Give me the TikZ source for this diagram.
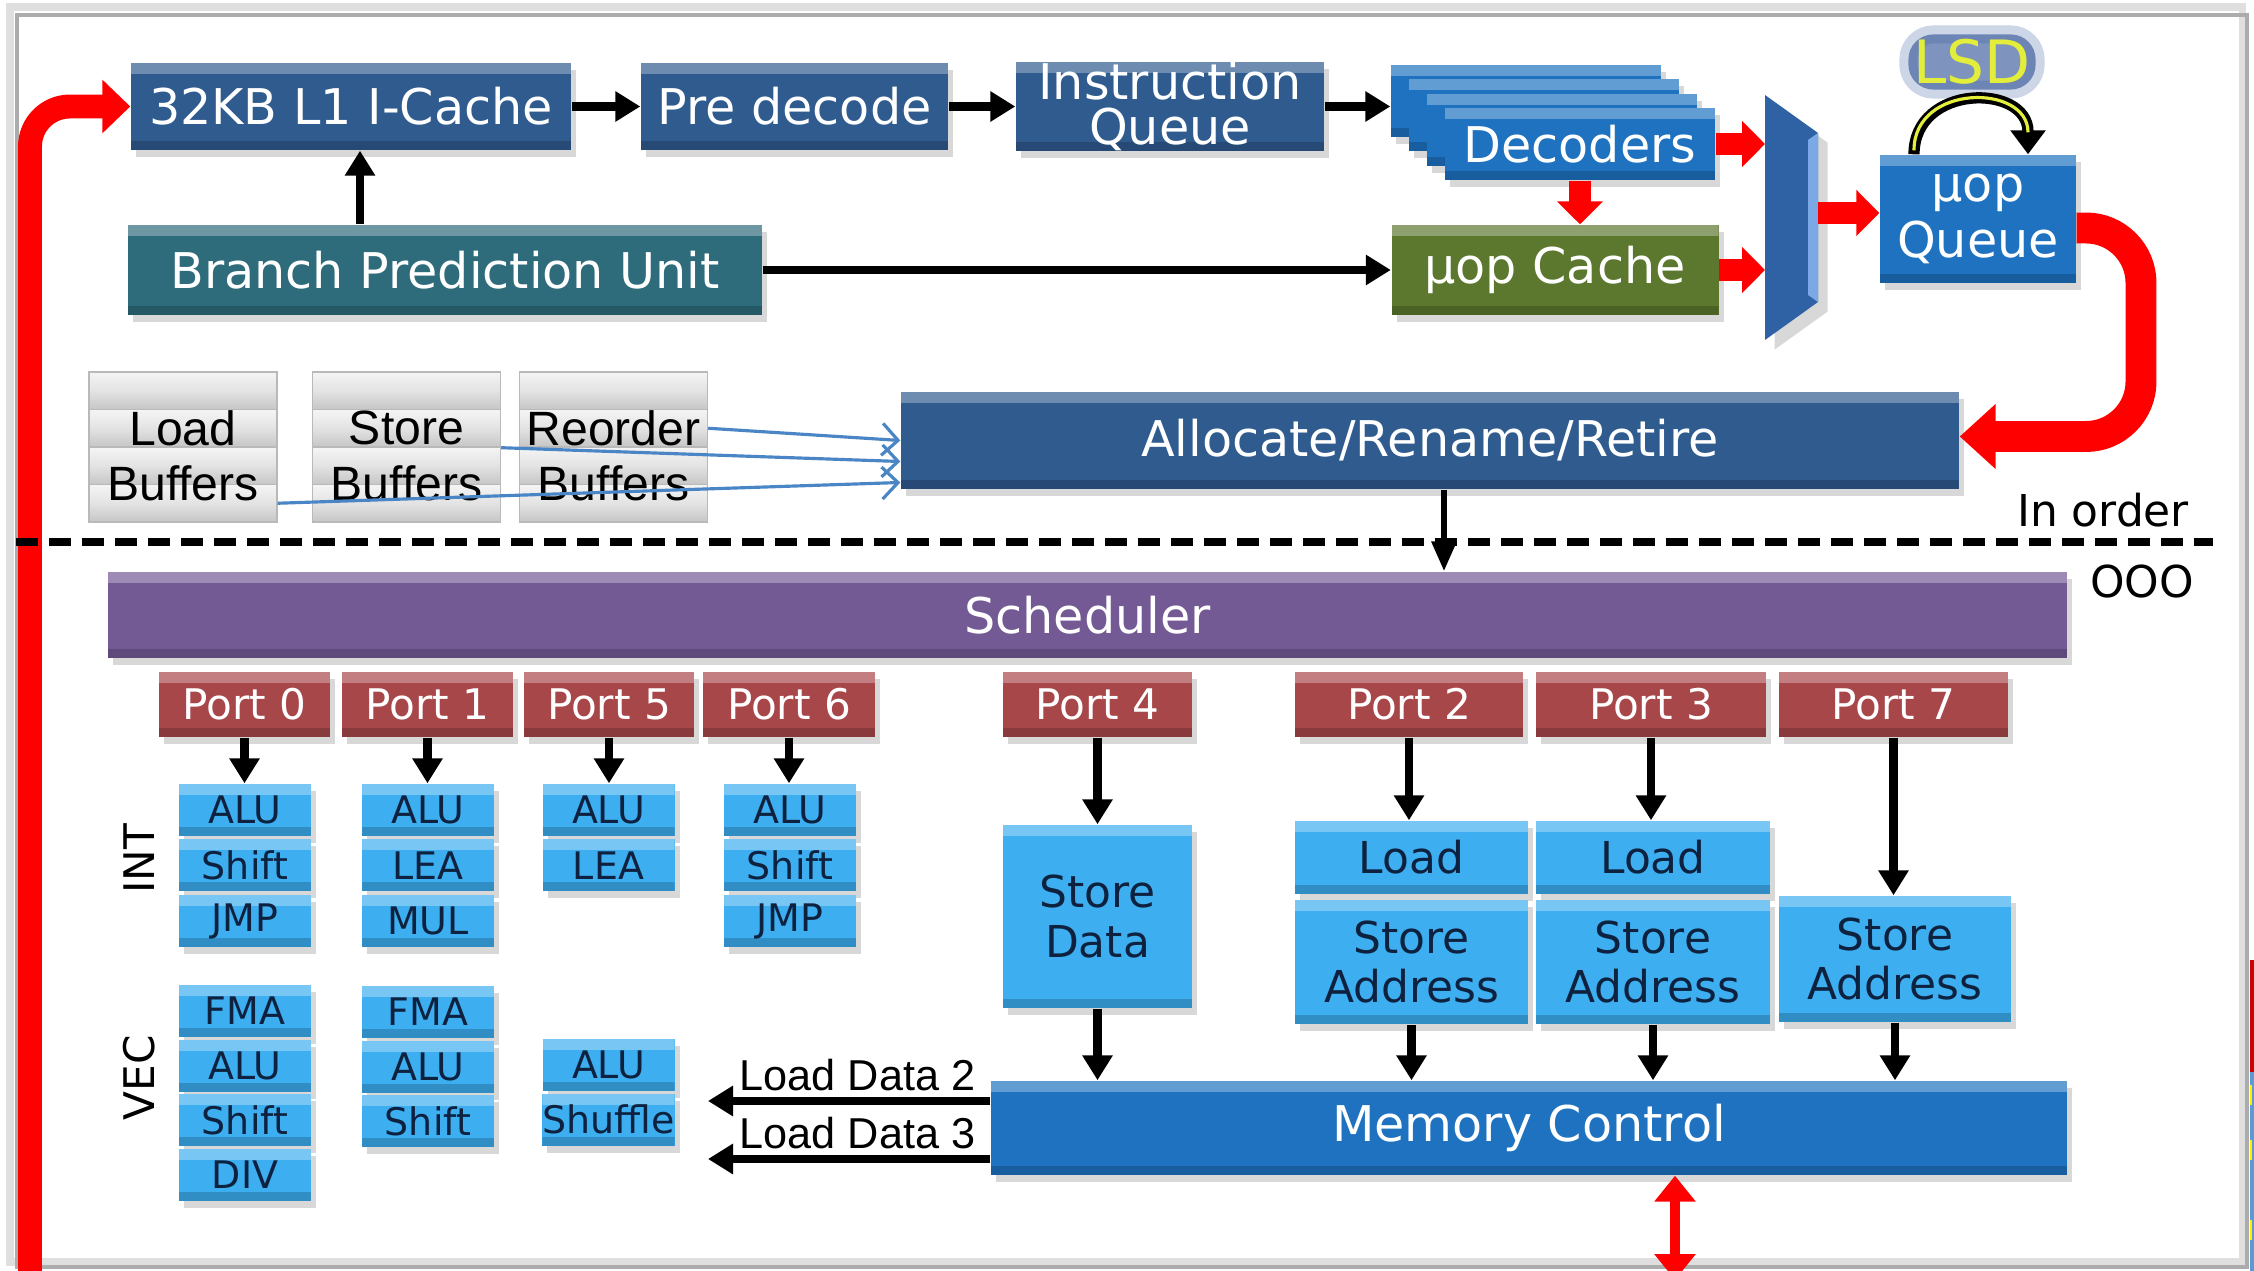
\documentclass[tikz,border=0pt]{standalone}
\usepackage{fontspec}
\setmainfont{DejaVu Sans}
\newfontfamily\arialfont{Liberation Sans}
\usetikzlibrary{arrows.meta,shadows,positioning}

\definecolor{dkblue}{HTML}{2F5B8F}
\definecolor{bputeal}{HTML}{2E6C7C}
\definecolor{midblue}{HTML}{1E72C0}
\definecolor{muxblue}{HTML}{2F62A4}
\definecolor{muxlight}{HTML}{7BA9E6}
\definecolor{ucgreen}{HTML}{5C782E}
\definecolor{schedpurple}{HTML}{745A95}
\definecolor{portred}{HTML}{A8474A}
\definecolor{ltblue}{HTML}{3DAEF0}
\definecolor{unitnavy}{HTML}{0E2240}
\definecolor{buflink}{HTML}{4A86C6}
\definecolor{lsdyellow}{HTML}{E2EE3A}
\definecolor{glowblue}{HTML}{3A5C9C}
\definecolor{stripblue}{HTML}{5B9BD5}

\begin{document}
\begin{tikzpicture}[
    cpubox/.style={rectangle, inner sep=0pt, align=center, text=white, fill=#1,
        font=\fontsize{14}{15}\selectfont,
        drop shadow={opacity=.3, shadow xshift=.5mm, shadow yshift=-.7mm},
        path picture={
            \fill[white, opacity=.3] (path picture bounding box.north west) rectangle ([yshift=-1.1mm]path picture bounding box.north east);
            \fill[black, opacity=.18] (path picture bounding box.south west) rectangle ([yshift=.9mm]path picture bounding box.south east);}},
    port/.style={cpubox=portred, minimum width=#1cm, minimum height=6.5mm, font=\fontsize{12}{13}\selectfont},
    alu/.style={cpubox=ltblue, text=unitnavy, minimum width=13.2mm, minimum height=5.2mm, font=\fontsize{10.8}{11}\selectfont},
    lsu/.style={cpubox=ltblue, text=unitnavy, font=\fontsize{12.5}{14.2}\selectfont},
    bufslice/.style={rectangle, inner sep=0pt, minimum width=1.88cm, minimum height=3.75mm, draw=gray!55,
        top color=gray!8, bottom color=gray!45, middle color=gray!22},
    buftxt/.style={font=\arialfont\fontsize{13.7}{14}\selectfont, inner sep=0pt},
    arr/.style={line width=2.5pt, -{Triangle[length=2.5mm, width=2.9mm]}},
    redarr/.style={red, line width=6.2pt, -{Triangle[length=2.3mm, width=4.5mm]}},
    link/.style={buflink, line width=.9pt, -{Straight Barb[length=1.6mm, width=3.2mm]}},
    side/.style={font=\fontsize{12.5}{13}\selectfont, inner sep=0pt},
]
    \useasboundingbox (0,0) rectangle (22.54,-12.71);
    \fill[white] (0,0) rectangle (22.54,-12.71);
    \draw[gray!25, line width=2pt] (0.10,-0.07) rectangle (22.42,-12.62);
    \draw[gray!65, line width=1pt] (0.17,-0.15) rectangle (22.47,-12.67);
    \fill[red!80!black] (22.50,-9.60) rectangle (22.54,-10.72);
    \fill[stripblue] (22.50,-10.72) rectangle (22.54,-12.71);
    \fill[yellow] (22.50,-10.85) rectangle (22.52,-11.05);
    \fill[yellow] (22.50,-11.40) rectangle (22.52,-11.60);
    \fill[yellow] (22.50,-12.20) rectangle (22.52,-12.40);

    \node[cpubox=dkblue, minimum width=4.40cm, minimum height=8.7mm] (l1) at (3.51,-1.065) {32KB L1 I-Cache};
    \node[cpubox=dkblue, minimum width=3.07cm, minimum height=8.7mm] (predec) at (7.945,-1.065) {Pre decode};
    \node[cpubox=dkblue, minimum width=3.08cm, minimum height=8.7mm, font=\fontsize{14}{13}\selectfont] (iq) at (11.70,-1.065) {Instruction\\Queue};
    \foreach \i in {0,1,2}
        \node[cpubox=midblue, minimum width=2.7cm, minimum height=7.2mm] (dec\i) at ({15.26+0.18*\i},{-1.01-0.143*\i}) {};
    \node[cpubox=midblue, minimum width=2.7cm, minimum height=7.2mm] (dec) at (15.80,-1.44) {Decoders};
    \node[cpubox=bputeal, minimum width=6.34cm, minimum height=9mm] (bpu) at (4.45,-2.70) {Branch Prediction Unit};
    \node[cpubox=ucgreen, minimum width=3.27cm, minimum height=9mm] (uc) at (15.55,-2.70) {μop Cache};
    \node[cpubox=midblue, minimum width=1.96cm, minimum height=12.8mm, font=\fontsize{14}{16}\selectfont] (uq) at (19.78,-2.19) {μop\\Queue};
    \node[font=\fontsize{17}{17}\selectfont, text=lsdyellow, inner sep=.5mm, rounded corners=2.5mm,
        fill=glowblue, fill opacity=.65, draw=glowblue, draw opacity=.25, line width=1.8mm, text opacity=1] (lsd) at (19.72,-0.62) {LSD};

    \draw[line width=3.2pt, -{Triangle[length=2.4mm, width=3.4mm]}]
        ([xshift=-6.4mm]uq.north) .. controls +(0,0.71) and +(0,0.71) .. ([xshift=5mm]uq.north);
    \draw[lsdyellow, line width=.9pt, shorten >=2.2mm, shorten <=.4mm]
        ([xshift=-6.4mm]uq.north) .. controls +(0,0.71) and +(0,0.71) .. ([xshift=5mm]uq.north);

    \coordinate (muxtl) at (17.65,-0.95);
    \coordinate (muxbl) at (17.65,-3.40);
    \coordinate (muxtr) at (18.18,-1.33);
    \coordinate (muxbr) at (18.18,-3.02);
    \fill[muxblue, drop shadow={opacity=.3}] (muxtl) -- (muxtr) -- (muxbr) -- (muxbl) -- cycle;
    \fill[muxlight] (18.08,-1.40) -- (muxtr) -- (muxbr) -- (18.08,-2.95) -- cycle;

    \draw[arr] (l1) -- (predec);
    \draw[arr] (predec) -- (iq);
    \draw[arr] (iq.east) -- (iq.east -| dec0.west);
    \draw[arr] ([xshift=.9mm]l1.south |- bpu.north) -- ([xshift=.9mm]l1.south);
    \draw[arr] (bpu) -- (uc);
    \draw[redarr] (dec.east) -- (dec.east -| muxtl);
    \draw[redarr] (uc.east) -- (uc.east -| muxtl);
    \draw[redarr] (dec.south) -- (dec.south |- uc.north);
    \draw[redarr] ([yshift=.6mm]uq.west -| muxtr) -- ([yshift=.6mm]uq.west);

    \foreach \b/\x/\lbl in {lb/1.83/Load, sb/4.065/Store, rob/6.135/Reorder} {
        \foreach \k in {0,...,3}
            \node[bufslice] (\b\k) at (\x,{-3.9075-0.375*\k}) {};
        \node[buftxt] (\b top) at (\b1) {\lbl};
        \node[buftxt] (\b bot) at ([yshift=.2mm]\b2.south) {Buffers};
    }
    \node[cpubox=dkblue, minimum width=10.58cm, minimum height=9.7mm] (alloc) at (14.30,-4.405) {Allocate/Rename/Retire};
    \draw[link] (rob1.east) -- (alloc.west);
    \draw[link] (sb1.south east) -- ([yshift=-2.1mm]alloc.west);
    \draw[link] (lb3.east) -- ([yshift=-4.2mm]alloc.west);

    \coordinate (rturn) at (21.41,-2.28);
    \draw[red, line width=8.8pt, -{Triangle[length=3.6mm, width=6.3mm]}, rounded corners=5.5mm]
        ([yshift=-.9mm]uq.east) -- (rturn) |- ([yshift=.4mm]alloc.east);
    \coordinate (lbot) at (0.30,-12.80);
    \draw[red, line width=6.8pt, -{Triangle[length=2.8mm, width=5.2mm]}, rounded corners=4mm] (lbot) |- (l1.west);

    \draw[line width=2.3pt, dash pattern=on 2.2mm off 1.1mm] (0.16,-5.42) -- (22.13,-5.42);
    \node[side] (inorder) at (21.03,-5.10) {In order};
    \node[side] (ooo) at (21.42,-5.82) {OOO};

    \node[cpubox=schedpurple, minimum width=19.59cm, minimum height=8.6mm] (sched) at (10.875,-6.15) {Scheduler};
    \draw[line width=1.8pt, -{Triangle[length=3mm, width=2.4mm]}] ([xshift=1.4mm]alloc.south) -- ([xshift=1.4mm]alloc.south |- sched.north);

    \foreach \p/\x/\w in {0/2.445/1.71, 1/4.275/1.71, 5/6.09/1.70, 6/7.89/1.72, 4/10.975/1.89, 2/14.09/2.28, 3/16.51/2.30, 7/18.935/2.29}
        \node[port=\w] (p\p) at (\x,-7.045) {Port \p};

    \foreach \p/\x/\units in {0/2.45/{ALU,Shift,JMP}, 1/4.28/{ALU,LEA,MUL}, 5/6.085/{ALU,LEA}, 6/7.90/{ALU,Shift,JMP}}
        \foreach \u [count=\k] in \units
            \node[alu] (int\p-\k) at (\x,{-8.10-0.555*(\k-1)}) {\u};
    \foreach \p/\x/\y/\units in {0/2.45/-10.11/{FMA,ALU,Shift,DIV}, 1/4.28/-10.12/{FMA,ALU,Shift}, 5/6.085/-10.65/{ALU,Shuffle}}
        \foreach \u [count=\k] in \units
            \node[alu] (vec\p-\k) at (\x,{\y-0.545*(\k-1)}) {\u};
    \foreach \p in {0,1,5,6}
        \draw[arr] (p\p.south) -- (p\p.south |- int\p-1.north);
    \node[rotate=90, font=\fontsize{12}{12}\selectfont] (intlbl) at (1.39,-8.59) {INT};
    \node[rotate=90, font=\fontsize{12}{12}\selectfont] (veclbl) at (1.39,-10.78) {VEC};

    \node[lsu, minimum width=1.89cm, minimum height=18.3mm] (sd) at (10.975,-9.165) {Store\\Data};
    \node[lsu, minimum width=2.33cm, minimum height=7.3mm] (ld2) at (14.115,-8.575) {Load};
    \node[lsu, minimum width=2.33cm, minimum height=12.4mm] (sa2) at (14.115,-9.62) {Store\\Address};
    \node[lsu, minimum width=2.34cm, minimum height=7.3mm] (ld3) at (16.53,-8.575) {Load};
    \node[lsu, minimum width=2.34cm, minimum height=12.4mm] (sa3) at (16.53,-9.62) {Store\\Address};
    \node[lsu, minimum width=2.32cm, minimum height=12.6mm] (sa7) at (18.95,-9.59) {Store\\Address};
    \node[cpubox=midblue, minimum width=10.76cm, minimum height=9.4mm] (mc) at (15.29,-11.28) {Memory Control};

    \draw[arr] (p4.south) -- (p4.south |- sd.north);
    \draw[arr] (p2.south) -- (p2.south |- ld2.north);
    \draw[arr] (p3.south) -- (p3.south |- ld3.north);
    \draw[arr] (p7.south) -- (p7.south |- sa7.north);
    \foreach \n in {sd,sa2,sa3,sa7}
        \draw[arr] (\n.south) -- (\n.south |- mc.north);

    \coordinate (ldo2) at (7.08,-11.01);
    \coordinate (ldo3) at (7.08,-11.59);
    \draw[arr] (mc.west |- ldo2) -- (ldo2) node[pos=.47, above, inner sep=1.5pt, font=\arialfont\fontsize{12.3}{13}\selectfont] (ld2lbl) {Load Data 2};
    \draw[arr] (mc.west |- ldo3) -- (ldo3) node[pos=.47, above, inner sep=1.5pt, font=\arialfont\fontsize{12.3}{13}\selectfont] (ld3lbl) {Load Data 3};

    \coordinate (membus) at (16.75,-12.80);
    \draw[red, line width=3pt, {Triangle[length=2.6mm, width=4mm]}-{Triangle[length=2.6mm, width=4mm]}] (mc.south -| membus) -- (membus);
\end{tikzpicture}
\end{document}
